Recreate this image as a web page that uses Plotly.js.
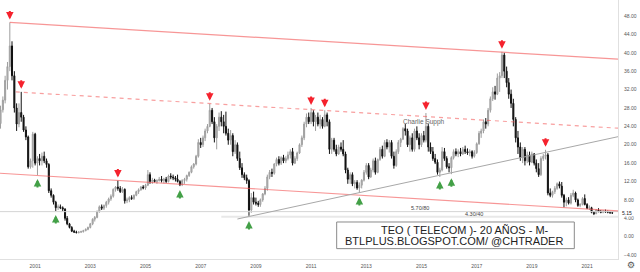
<!DOCTYPE html>
<html><head><meta charset="utf-8">
<script src="https://cdn.plot.ly/plotly-3.0.1.min.js"></script>
<style>html,body{margin:0;padding:0;background:#fff;}#chart{width:640px;height:272px;}</style>
</head><body><div id="chart"></div>
<script>
// Monthly candles, first month = 1999-10
const startYear = 1999, startMonth = 10;
const openP = [
 24.6, 27.6, 29.7,
 34, 37, 41.5, 35, 28, 24.5, 27, 26, 23.2, 21.7, 15.2, 16.5,
 22.3, 16, 17, 16.5, 17.5, 16.5, 15.7, 10, 9, 7.5, 6.3, 6.5,
 6.3, 6, 4, 2.8, 2, 1.2, 1, 0.9, 1, 1.1, 1.3, 1.6,
 2, 2.8, 3.8, 4.2, 5.5, 6.5, 6.2, 6.8, 7.5, 8.2, 8.8, 10.3,
 10.8, 10.5, 9.8, 10.3, 7.8, 8, 8.5, 8.3, 9, 9.8, 10.2, 10.8,
 10.6, 11.2, 13.5, 12, 12.3, 12, 12.2, 12.5, 12.2, 12.5, 12, 13.2,
 13, 12.8, 12.5, 12, 11.3, 12.2, 12.5, 13.3, 14, 15.2, 15.8, 17.5,
 20.5, 20, 21.5, 23, 24, 27.5, 25, 21.5, 24, 26, 25, 24,
 22.5, 21, 22, 18.5, 20, 17, 15, 13.5, 12.8, 12.2, 5.8, 8.5,
 7.5, 7.3, 7, 8, 9.3, 10.5, 13, 14, 13.8, 15.8, 16.8, 16,
 17.2, 16.5, 17, 17.8, 18.5, 16, 17, 18.2, 20, 21.5, 24.5, 26,
 25, 27, 25, 26, 24.5, 25.5, 24, 26.5, 25, 19, 21, 19,
 18, 19.5, 19, 18, 14.5, 12.5, 13.5, 11.5, 11.8, 10.6, 11.2, 12.3,
 14, 15.5, 13, 14.5, 16.5, 14, 16.8, 19, 17.5, 20.5, 19.5, 20.5,
 17.5, 15.5, 18.5, 20.5, 21.2, 23.5, 23, 20, 21.5, 19, 23, 21.5,
 20, 22, 21, 24, 19.5, 18.5, 17, 16.2, 14, 14.5, 18.5, 17,
 15.2, 15, 17.2, 18.5, 18, 18.5, 18, 19, 18.5, 18.2, 18.5, 17.5,
 18.3, 20.2, 22.5, 23, 25, 24.5, 27.5, 30, 31.5, 31, 34.5, 35,
 39.5, 36, 33.5, 31, 29, 25.5, 21.5, 19.5, 17.2, 19, 16.5, 17.8,
 16.2, 18, 16, 14.8, 13.5, 17, 17.5, 17.8, 9.5, 9, 9.8, 10.5,
 11.5, 11, 9, 7.5, 8, 7.3, 9, 9.5, 8, 6.8, 7, 8.3,
 7, 6.2, 6.3, 5.3, 5, 5.8, 5.5, 5.3, 5.6, 5.4, 5.3, 5.2
];
const highP = [
 28.5, 30.5, 35,
 38, 46.6, 42.5, 36, 29, 29, 31.5, 26.5, 24, 22, 17, 22.8,
 22.6, 17.5, 18, 18.3, 18.5, 17, 16, 10.5, 9.2, 7.8, 7, 7,
 6.6, 6.2, 4.5, 3, 2.3, 1.5, 1.3, 1.2, 1.3, 1.5, 1.8, 2.2,
 3, 4, 4.5, 5.7, 6.8, 7, 7, 7.8, 8.5, 9.2, 10.5, 11,
 12.2, 11, 10.8, 10.5, 8.5, 8.8, 9, 9.2, 10, 10.5, 11, 11.2,
 11.5, 14.5, 14, 12.8, 12.6, 12.5, 13, 13.2, 12.8, 13, 13.5, 13.8,
 13.5, 13.2, 13.5, 12.3, 12.5, 12.8, 13.5, 14.2, 15.5, 16, 17.8, 21.2,
 21.5, 22, 23.5, 24.5, 28.9, 28, 26, 24.5, 27, 27.3, 26.5, 27.2,
 23.5, 23.2, 22.5, 21, 20.5, 18.5, 16, 14, 13.5, 12.5, 9.5, 9.8,
 8.5, 7.8, 8.3, 9.5, 11, 13.5, 14.5, 14.8, 16, 17.2, 17.5, 17.5,
 17.8, 17.5, 18.5, 19, 19.3, 17.5, 18.5, 20.3, 22, 25, 26.8, 27,
 28, 27.5, 26.5, 27, 26.5, 26, 27.5, 27, 25.5, 21.5, 21.5, 20,
 20, 20.5, 21, 18.5, 15, 14, 14, 12.3, 12.3, 11.8, 12.5, 14.5,
 16, 16, 15, 17, 17.2, 17, 19.5, 19.8, 21, 21.2, 21, 21,
 18.5, 19, 21, 21.5, 23.8, 24.5, 23.5, 22, 22.5, 23.5, 24, 22.5,
 22.5, 23, 26.9, 24.5, 20.5, 19.5, 18, 16.8, 15, 19.5, 19.3, 17.5,
 16, 17.5, 19, 19.2, 19, 19.3, 19.5, 19.8, 19.2, 19, 18.8, 18.8,
 20.5, 23, 23.5, 25.5, 25.8, 28, 30.5, 32.5, 32.8, 35.5, 35.8, 40.2,
 40, 37, 34.5, 32, 30, 26, 23, 20.5, 19.5, 19.5, 18.5, 18.5,
 18.5, 18.2, 16.8, 16, 17.5, 18, 18.9, 18.2, 10.5, 10, 11, 11.8,
 12, 11.9, 9.3, 8.5, 8.6, 9.5, 10.2, 9.8, 8.3, 7.3, 8.6, 9.2,
 7.3, 6.8, 6.5, 5.6, 6, 6.2, 5.8, 5.8, 5.9, 5.7, 5.5, 5.4
];
const lowP = [
 23.5, 27, 29,
 32, 36, 34, 27, 23, 23.8, 25, 22.8, 21, 14.8, 14.8, 15,
 15.5, 13.4, 15.5, 15.5, 16, 15, 9.5, 8.5, 7, 5.6, 5.8, 6,
 5.5, 3.5, 2.5, 1.8, 1, 0.8, 0.7, 0.7, 0.8, 0.9, 1.2, 1.4,
 1.8, 2.5, 3.3, 4, 5.2, 5.8, 5.8, 6.3, 7, 7.8, 8.5, 9.8,
 10, 9.5, 9.5, 7.2, 7.3, 7.5, 8, 8, 8.8, 9.3, 10, 10.3,
 10.2, 11, 11.5, 11.5, 11.8, 11.5, 12, 11.8, 11.6, 11.7, 11.8, 12.5,
 12.3, 12, 11.8, 11, 11, 11.5, 12, 13, 13.8, 14.8, 15.5, 17.2,
 19.3, 19.5, 20.8, 22.5, 23.8, 24.5, 20.5, 19, 23, 24, 22.5, 22,
 20, 20, 17.5, 18, 16.5, 14.5, 12.8, 12.3, 11.5, 4.3, 5.2, 7,
 6.8, 6.5, 6.5, 7.6, 9, 10, 12.5, 13, 13.5, 15.3, 15.5, 15.6,
 16, 16, 16.6, 17, 15.5, 15.8, 16.5, 18, 19.5, 21, 23.8, 24.5,
 24.5, 24, 23, 24, 23.5, 23.5, 23.8, 24, 18, 18, 18.5, 17.5,
 17.8, 18.5, 17.5, 13.8, 11.5, 11.5, 11, 10.5, 10.2, 9.5, 10.5, 12,
 13.5, 12.5, 12.8, 14, 13.5, 13.8, 16.5, 17, 17.3, 19, 18.3, 17,
 14.8, 15.2, 18, 19.5, 21, 22, 19.5, 18.5, 18.5, 18.5, 21, 19,
 19.5, 20.5, 20.5, 18.5, 18, 16.5, 15.8, 13.5, 13, 14.2, 16.5, 14.8,
 14, 13.6, 16.8, 17.5, 17.3, 17.5, 17.8, 18, 17.8, 17.5, 17, 17.2,
 18, 20, 21.5, 22.5, 23.5, 24, 27, 29.5, 29.8, 30.8, 31.5, 34.5,
 34.5, 32.5, 30, 28, 24, 20.5, 18, 16.5, 16, 15.5, 16, 15.5,
 16, 15.5, 14, 13, 13.2, 16.5, 16.8, 9, 8.6, 8.5, 9.3, 10.2,
 10.5, 8.5, 6.4, 6.6, 7, 7, 8.6, 7.5, 6.5, 6.4, 6.8, 6.8,
 6, 5.8, 5.1, 4.7, 4.9, 5.3, 5.1, 5.1, 5.2, 5.1, 5, 5
];
const closeP = [
 27.6, 29.7, 34,
 37, 41.5, 35, 28, 24.5, 27, 26, 23.2, 21.7, 15.2, 16.5, 22.3,
 16, 17, 16.5, 17.5, 16.5, 15.7, 10, 9, 7.5, 6.3, 6.5, 6.3,
 6, 4, 2.8, 2, 1.2, 1, 0.9, 1, 1.1, 1.3, 1.6, 2,
 2.8, 3.8, 4.2, 5.5, 6.5, 6.2, 6.8, 7.5, 8.2, 8.8, 10.3, 10.8,
 10.5, 9.8, 10.3, 7.8, 8, 8.5, 8.3, 9, 9.8, 10.2, 10.8, 10.6,
 11.2, 13.5, 12, 12.3, 12, 12.2, 12.5, 12.2, 12.5, 12, 13.2, 13,
 12.8, 12.5, 12, 11.3, 12.2, 12.5, 13.3, 14, 15.2, 15.8, 17.5, 20.5,
 20, 21.5, 23, 24, 27.5, 25, 21.5, 24, 26, 25, 24, 22.5,
 21, 22, 18.5, 20, 17, 15, 13.5, 12.8, 12.2, 5.8, 8.5, 7.5,
 7.3, 7, 8, 9.3, 10.5, 13, 14, 13.8, 15.8, 16.8, 16, 17.2,
 16.5, 17, 17.8, 18.5, 16, 17, 18.2, 20, 21.5, 24.5, 26, 25,
 27, 25, 26, 24.5, 25.5, 24, 26.5, 25, 19, 21, 19, 18,
 19.5, 19, 18, 14.5, 12.5, 13.5, 11.5, 11.8, 10.6, 11.2, 12.3, 14,
 15.5, 13, 14.5, 16.5, 14, 16.8, 19, 17.5, 20.5, 19.5, 20.5, 17.5,
 15.5, 18.5, 20.5, 21.2, 23.5, 23, 20, 21.5, 19, 23, 21.5, 20,
 22, 21, 24, 19.5, 18.5, 17, 16.2, 14, 14.5, 18.5, 17, 15.2,
 15, 17.2, 18.5, 18, 18.5, 18, 19, 18.5, 18.2, 18.5, 17.5, 18.3,
 20.2, 22.5, 23, 25, 24.5, 27.5, 30, 31.5, 31, 34.5, 35, 39.5,
 36, 33.5, 31, 29, 25.5, 21.5, 19.5, 17.2, 19, 16.5, 17.8, 16.2,
 18, 16, 14.8, 13.5, 17, 17.5, 17.8, 9.5, 9, 9.8, 10.5, 11.5,
 11, 9, 7.5, 8, 7.3, 9, 9.5, 8, 6.8, 7, 8.3, 7,
 6.2, 6.3, 5.3, 5, 5.8, 5.5, 5.3, 5.6, 5.4, 5.3, 5.2, 5.15
];

// Trend lines (date, value endpoints)
const topLineX = ['2000-02-01', '2022-02-14'];
const topLineY = [46.6, 38.6];
const dashLineX = ['2000-04-20', '2022-02-14'];
const dashLineY = [31.5, 23.6];
const lowLineX = ['1999-09-24', '2022-02-14'];
const lowLineY = [13.8, 5.6];
const grayLineX = ['2008-05-01', '2022-02-14'];
const grayLineY = [3.85, 21.75];
const level1X = ['1999-09-24', '2022-02-14'];
const level1Y = [5.45, 5.45];
const level2X = ['2007-10-01', '2022-02-14'];
const level2Y = [4.35, 4.35];

// Marked highs / lows
const redArrowX = ['2000-02-01','2000-07-01','2004-01-01','2007-05-01','2011-01-01','2011-07-01','2015-03-01','2017-12-01','2019-07-01'];
const redArrowY = [46.6, 31.5, 12.2, 28.9, 28, 27.5, 26.9, 40.2, 18.9];
const greenArrowX = ['2001-02-01','2001-10-01','2006-04-01','2008-10-01','2012-10-01','2015-09-01','2016-02-01'];
const greenArrowY = [13.4, 5.6, 11.0, 4.3, 9.5, 13.0, 13.6];

const titleLine1 = 'TEO ( TELECOM )- 20 AÑOS - M-';
const titleLine2 = 'BTLPLUS.BLOGSPOT.COM/ @CHTRADER';
const lastPriceLabel = '5.15';

const dates = [];
for (let i = 0; i < closeP.length; i++) {
  const m0 = startMonth - 1 + i;
  const y = startYear + Math.floor(m0 / 12);
  const m = (m0 % 12) + 1;
  dates.push(y + '-' + (m < 10 ? '0' + m : m) + '-01');
}

const lineTrace = (x, y, color, width, dash) => ({
  type: 'scatter', mode: 'lines', x: x, y: y, hoverinfo: 'skip',
  line: {color: color, width: width, dash: dash || 'solid'}
});

const traces = [
  lineTrace(level1X, level1Y, '#d4d4d4', 1),
  lineTrace(level2X, level2Y, '#e8e8e8', 2),
  {
    type: 'candlestick', x: dates, open: openP, high: highP, low: lowP, close: closeP,
    increasing: {line: {color: '#9e9e9e', width: 1}, fillcolor: '#bdbdbd'},
    decreasing: {line: {color: '#111111', width: 1}, fillcolor: '#111111'},
    whiskerwidth: 0, hoverinfo: 'skip'
  },
  lineTrace(topLineX, topLineY, 'rgba(242,80,80,0.6)', 1.2),
  lineTrace(dashLineX, dashLineY, 'rgba(242,80,80,0.55)', 1.2, '4px,4px'),
  lineTrace(lowLineX, lowLineY, 'rgba(242,80,80,0.6)', 1.2),
  lineTrace(grayLineX, grayLineY, '#a8a8a8', 1)
];

const annotations = [];
redArrowX.forEach((d, i) => annotations.push({
  x: d, y: redArrowY[i], xref: 'x', yref: 'y', text: '', showarrow: true,
  ax: 0, ay: -10, yshift: 3, arrowhead: 2, arrowsize: 0.75, arrowwidth: 2, arrowcolor: '#f5222d'
}));
greenArrowX.forEach((d, i) => annotations.push({
  x: d, y: greenArrowY[i], xref: 'x', yref: 'y', text: '', showarrow: true,
  ax: 0, ay: 10, yshift: -4, arrowhead: 2, arrowsize: 0.75, arrowwidth: 2, arrowcolor: '#43a047'
}));
annotations.push(
  {x: '2015-02-01', y: 24.9, xref: 'x', yref: 'y', text: 'Charlie Supph', showarrow: false,
   font: {family: 'Liberation Sans', size: 6.5, color: '#666'}},
  {x: '2014-12-15', y: 6.25, xref: 'x', yref: 'y', text: '5.70/80', showarrow: false,
   font: {family: 'Liberation Sans', size: 5.5, color: '#444'}},
  {x: '2016-11-20', y: 4.85, xref: 'x', yref: 'y', text: '4.30/40', showarrow: false,
   font: {family: 'Liberation Sans', size: 5.5, color: '#444'}},
  {x: 0.7524, y: 0.1120, xref: 'paper', yref: 'paper', text: titleLine1, showarrow: false,
   xanchor: 'center', yanchor: 'middle', font: {family: 'Liberation Sans', size: 11, color: '#222'}},
  {x: 0.7346, y: 0.0700, xref: 'paper', yref: 'paper', text: titleLine2, showarrow: false,
   xanchor: 'center', yanchor: 'middle', font: {family: 'Liberation Sans', size: 11, color: '#222'}},
  {x: 1, y: 5.15, xref: 'paper', yref: 'y', text: lastPriceLabel, showarrow: false,
   xanchor: 'left', xshift: 3, bgcolor: '#ffffff', borderpad: 0,
   font: {family: 'Liberation Sans', size: 5, color: '#222'}},
  {x: 1.021, y: -0.023, xref: 'paper', yref: 'paper', text: '⚙', showarrow: false,
   xanchor: 'center', yanchor: 'middle', font: {family: 'DejaVu Sans', size: 9, color: '#555'}}
);

const layout = {
  width: 640, height: 272,
  margin: {l: 0, r: 22, t: 0, b: 13, pad: 0},
  paper_bgcolor: '#ffffff', plot_bgcolor: '#ffffff',
  showlegend: false,
  xaxis: {
    type: 'date', range: ['1999-09-24', '2022-02-14'],
    rangeslider: {visible: false},
    showgrid: false, zeroline: false, showline: true, linecolor: '#e0e0e0', linewidth: 1,
    ticks: '', tick0: '2001-01-01', dtick: 'M24', tickformat: '%Y',
    tickfont: {family: 'Liberation Sans', size: 5, color: '#555'}, ticklabelstandoff: 2
  },
  yaxis: {
    side: 'right', range: [-4.85, 51.48],
    showgrid: false, zeroline: false, showline: true, linecolor: '#e0e0e0', linewidth: 1,
    ticks: '', tick0: 0, dtick: 4, tickformat: '.2f',
    tickfont: {family: 'Liberation Sans', size: 5, color: '#555'}, ticklabelstandoff: 4
  },
  shapes: [{
    type: 'rect', xref: 'paper', yref: 'paper',
    x0: 0.5448, x1: 0.9293, y0: 0.0400, y1: 0.1429,
    line: {color: '#8a8a8a', width: 1}, fillcolor: '#ffffff', layer: 'above'
  }],
  annotations: annotations
};

Plotly.newPlot('chart', traces, layout, {staticPlot: true, displayModeBar: false});
</script></body></html>
